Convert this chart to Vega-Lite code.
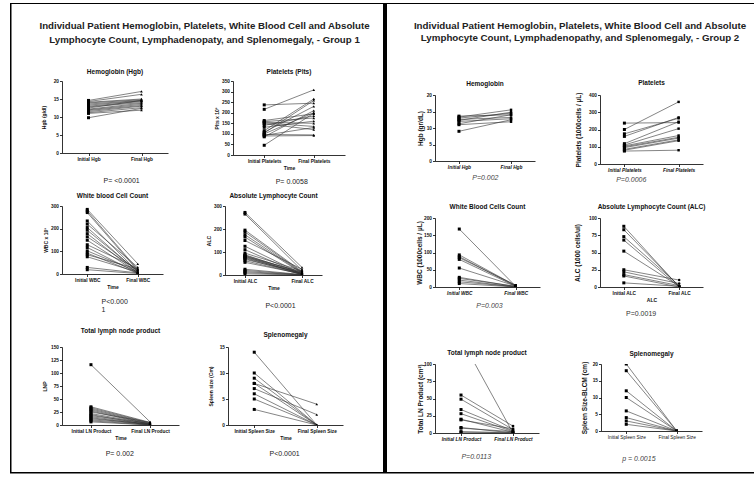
{
"$schema": "https://vega.github.io/schema/vega-lite/v6.json",
"padding": {"left": 10, "top": 3, "right": 0, "bottom": 0},
"background": "white",
"config": {
 "font": "Liberation Sans",
 "view": {"stroke": null},
 "axis": {"grid": false, "domainColor": "#000", "domainWidth": 0.8, "tickColor": "#000", "tickWidth": 0.8, "tickSize": 2.5, "labelFontSize": 4.8, "labelFontWeight": "bold", "labelColor": "#111", "labelPadding": 1, "titleFontSize": 5, "titleFontWeight": "bold", "titleColor": "#111", "titlePadding": 2, "labelOverlap": false},
 "title": {"fontSize": 6.5, "fontWeight": "bold", "color": "#111", "offset": 5, "anchor": "middle"}
},
"datasets": {
 "g1hgb": [{"p":1,"t":"I","v":14.6},{"p":1,"t":"F","v":17.1},{"p":2,"t":"I","v":14.3},{"p":2,"t":"F","v":16.3},{"p":3,"t":"I","v":14.1},{"p":3,"t":"F","v":15.0},{"p":4,"t":"I","v":13.9},{"p":4,"t":"F","v":14.8},{"p":5,"t":"I","v":13.6},{"p":5,"t":"F","v":14.6},{"p":6,"t":"I","v":13.3},{"p":6,"t":"F","v":14.5},{"p":7,"t":"I","v":13.0},{"p":7,"t":"F","v":14.3},{"p":8,"t":"I","v":12.8},{"p":8,"t":"F","v":14.0},{"p":9,"t":"I","v":12.5},{"p":9,"t":"F","v":14.6},{"p":10,"t":"I","v":12.2},{"p":10,"t":"F","v":13.8},{"p":11,"t":"I","v":12.0},{"p":11,"t":"F","v":13.5},{"p":12,"t":"I","v":11.8},{"p":12,"t":"F","v":13.2},{"p":13,"t":"I","v":11.5},{"p":13,"t":"F","v":13.0},{"p":14,"t":"I","v":11.2},{"p":14,"t":"F","v":12.6},{"p":15,"t":"I","v":11.0},{"p":15,"t":"F","v":11.9},{"p":16,"t":"I","v":9.8},{"p":16,"t":"F","v":12.4}],
 "g1plt": [{"p":1,"t":"I","v":237},{"p":1,"t":"F","v":245},{"p":2,"t":"I","v":216},{"p":2,"t":"F","v":308},{"p":3,"t":"I","v":163},{"p":3,"t":"F","v":195},{"p":4,"t":"I","v":158},{"p":4,"t":"F","v":175},{"p":5,"t":"I","v":155},{"p":5,"t":"F","v":150},{"p":6,"t":"I","v":152},{"p":6,"t":"F","v":135},{"p":7,"t":"I","v":148},{"p":7,"t":"F","v":120},{"p":8,"t":"I","v":140},{"p":8,"t":"F","v":185},{"p":9,"t":"I","v":131},{"p":9,"t":"F","v":160},{"p":10,"t":"I","v":115},{"p":10,"t":"F","v":265},{"p":11,"t":"I","v":108},{"p":11,"t":"F","v":230},{"p":12,"t":"I","v":104},{"p":12,"t":"F","v":258},{"p":13,"t":"I","v":100},{"p":13,"t":"F","v":200},{"p":14,"t":"I","v":97},{"p":14,"t":"F","v":95},{"p":15,"t":"I","v":93},{"p":15,"t":"F","v":130},{"p":16,"t":"I","v":90},{"p":16,"t":"F","v":92},{"p":17,"t":"I","v":86},{"p":17,"t":"F","v":210},{"p":18,"t":"I","v":46},{"p":18,"t":"F","v":198}],
 "g1wbc": [{"p":1,"t":"I","v":285},{"p":1,"t":"F","v":45},{"p":2,"t":"I","v":278},{"p":2,"t":"F","v":20},{"p":3,"t":"I","v":271},{"p":3,"t":"F","v":15},{"p":4,"t":"I","v":234},{"p":4,"t":"F","v":10},{"p":5,"t":"I","v":220},{"p":5,"t":"F","v":30},{"p":6,"t":"I","v":205},{"p":6,"t":"F","v":8},{"p":7,"t":"I","v":193},{"p":7,"t":"F","v":12},{"p":8,"t":"I","v":178},{"p":8,"t":"F","v":5},{"p":9,"t":"I","v":164},{"p":9,"t":"F","v":18},{"p":10,"t":"I","v":149},{"p":10,"t":"F","v":6},{"p":11,"t":"I","v":129},{"p":11,"t":"F","v":25},{"p":12,"t":"I","v":117},{"p":12,"t":"F","v":4},{"p":13,"t":"I","v":102},{"p":13,"t":"F","v":10},{"p":14,"t":"I","v":92},{"p":14,"t":"F","v":3},{"p":15,"t":"I","v":85},{"p":15,"t":"F","v":22},{"p":16,"t":"I","v":76},{"p":16,"t":"F","v":8},{"p":17,"t":"I","v":29},{"p":17,"t":"F","v":5},{"p":18,"t":"I","v":19},{"p":18,"t":"F","v":2}],
 "g1alc": [{"p":1,"t":"I","v":272},{"p":1,"t":"F","v":33},{"p":2,"t":"I","v":265},{"p":2,"t":"F","v":20},{"p":3,"t":"I","v":195},{"p":3,"t":"F","v":15},{"p":4,"t":"I","v":187},{"p":4,"t":"F","v":12},{"p":5,"t":"I","v":175},{"p":5,"t":"F","v":10},{"p":6,"t":"I","v":165},{"p":6,"t":"F","v":8},{"p":7,"t":"I","v":150},{"p":7,"t":"F","v":25},{"p":8,"t":"I","v":125},{"p":8,"t":"F","v":5},{"p":9,"t":"I","v":110},{"p":9,"t":"F","v":3},{"p":10,"t":"I","v":95},{"p":10,"t":"F","v":18},{"p":11,"t":"I","v":88},{"p":11,"t":"F","v":6},{"p":12,"t":"I","v":85},{"p":12,"t":"F","v":11},{"p":13,"t":"I","v":83},{"p":13,"t":"F","v":2},{"p":14,"t":"I","v":80},{"p":14,"t":"F","v":14},{"p":15,"t":"I","v":78},{"p":15,"t":"F","v":4},{"p":16,"t":"I","v":75},{"p":16,"t":"F","v":7},{"p":17,"t":"I","v":72},{"p":17,"t":"F","v":1},{"p":18,"t":"I","v":68},{"p":18,"t":"F","v":9},{"p":19,"t":"I","v":62},{"p":19,"t":"F","v":3},{"p":20,"t":"I","v":55},{"p":20,"t":"F","v":5},{"p":21,"t":"I","v":25},{"p":21,"t":"F","v":2},{"p":22,"t":"I","v":20},{"p":22,"t":"F","v":1},{"p":23,"t":"I","v":15},{"p":23,"t":"F","v":0},{"p":24,"t":"I","v":10},{"p":24,"t":"F","v":1},{"p":25,"t":"I","v":5},{"p":25,"t":"F","v":0}],
 "g1lnp": [{"p":1,"t":"I","v":116},{"p":1,"t":"F","v":6},{"p":2,"t":"I","v":35},{"p":2,"t":"F","v":5},{"p":3,"t":"I","v":33},{"p":3,"t":"F","v":4},{"p":4,"t":"I","v":31},{"p":4,"t":"F","v":3},{"p":5,"t":"I","v":29},{"p":5,"t":"F","v":2},{"p":6,"t":"I","v":27},{"p":6,"t":"F","v":1},{"p":7,"t":"I","v":25},{"p":7,"t":"F","v":5},{"p":8,"t":"I","v":22},{"p":8,"t":"F","v":2},{"p":9,"t":"I","v":20},{"p":9,"t":"F","v":0},{"p":10,"t":"I","v":18},{"p":10,"t":"F","v":3},{"p":11,"t":"I","v":16},{"p":11,"t":"F","v":1},{"p":12,"t":"I","v":14},{"p":12,"t":"F","v":0},{"p":13,"t":"I","v":12},{"p":13,"t":"F","v":2},{"p":14,"t":"I","v":10},{"p":14,"t":"F","v":1},{"p":15,"t":"I","v":8},{"p":15,"t":"F","v":0},{"p":16,"t":"I","v":6},{"p":16,"t":"F","v":0}],
 "g1spl": [{"p":1,"t":"I","v":14},{"p":1,"t":"F","v":0},{"p":2,"t":"I","v":10},{"p":2,"t":"F","v":0},{"p":3,"t":"I","v":9},{"p":3,"t":"F","v":0},{"p":4,"t":"I","v":8},{"p":4,"t":"F","v":4},{"p":5,"t":"I","v":8},{"p":5,"t":"F","v":0},{"p":6,"t":"I","v":7},{"p":6,"t":"F","v":2},{"p":7,"t":"I","v":6},{"p":7,"t":"F","v":0},{"p":8,"t":"I","v":5},{"p":8,"t":"F","v":0},{"p":9,"t":"I","v":3},{"p":9,"t":"F","v":0}],
 "g2hgb": [{"p":1,"t":"I","v":13.6},{"p":1,"t":"F","v":14.0},{"p":2,"t":"I","v":13.3},{"p":2,"t":"F","v":15.5},{"p":3,"t":"I","v":13.0},{"p":3,"t":"F","v":14.5},{"p":4,"t":"I","v":12.6},{"p":4,"t":"F","v":13.2},{"p":5,"t":"I","v":12.3},{"p":5,"t":"F","v":14.8},{"p":6,"t":"I","v":12.0},{"p":6,"t":"F","v":12.8},{"p":7,"t":"I","v":11.3},{"p":7,"t":"F","v":14.0},{"p":8,"t":"I","v":11.0},{"p":8,"t":"F","v":11.9},{"p":9,"t":"I","v":9.0},{"p":9,"t":"F","v":12.5}],
 "g2plt": [{"p":1,"t":"I","v":237},{"p":1,"t":"F","v":240},{"p":2,"t":"I","v":200},{"p":2,"t":"F","v":360},{"p":3,"t":"I","v":175},{"p":3,"t":"F","v":265},{"p":4,"t":"I","v":160},{"p":4,"t":"F","v":270},{"p":5,"t":"I","v":118},{"p":5,"t":"F","v":245},{"p":6,"t":"I","v":110},{"p":6,"t":"F","v":205},{"p":7,"t":"I","v":105},{"p":7,"t":"F","v":165},{"p":8,"t":"I","v":100},{"p":8,"t":"F","v":155},{"p":9,"t":"I","v":95},{"p":9,"t":"F","v":150},{"p":10,"t":"I","v":85},{"p":10,"t":"F","v":140},{"p":11,"t":"I","v":80},{"p":11,"t":"F","v":135},{"p":12,"t":"I","v":75},{"p":12,"t":"F","v":80}],
 "g2wbc": [{"p":1,"t":"I","v":168},{"p":1,"t":"F","v":2},{"p":2,"t":"I","v":93},{"p":2,"t":"F","v":4},{"p":3,"t":"I","v":88},{"p":3,"t":"F","v":3},{"p":4,"t":"I","v":85},{"p":4,"t":"F","v":5},{"p":5,"t":"I","v":80},{"p":5,"t":"F","v":2},{"p":6,"t":"I","v":55},{"p":6,"t":"F","v":3},{"p":7,"t":"I","v":28},{"p":7,"t":"F","v":1},{"p":8,"t":"I","v":25},{"p":8,"t":"F","v":2},{"p":9,"t":"I","v":20},{"p":9,"t":"F","v":0},{"p":10,"t":"I","v":15},{"p":10,"t":"F","v":1},{"p":11,"t":"I","v":10},{"p":11,"t":"F","v":0}],
 "g2alc": [{"p":1,"t":"I","v":88},{"p":1,"t":"F","v":0},{"p":2,"t":"I","v":83},{"p":2,"t":"F","v":1},{"p":3,"t":"I","v":73},{"p":3,"t":"F","v":2},{"p":4,"t":"I","v":68},{"p":4,"t":"F","v":0},{"p":5,"t":"I","v":52},{"p":5,"t":"F","v":1},{"p":6,"t":"I","v":25},{"p":6,"t":"F","v":10},{"p":7,"t":"I","v":22},{"p":7,"t":"F","v":5},{"p":8,"t":"I","v":18},{"p":8,"t":"F","v":2},{"p":9,"t":"I","v":16},{"p":9,"t":"F","v":0},{"p":10,"t":"I","v":6},{"p":10,"t":"F","v":1}],
 "g2lnp": [{"p":1,"t":"I","v":137},{"p":1,"t":"F","v":0},{"p":2,"t":"I","v":55},{"p":2,"t":"F","v":10},{"p":3,"t":"I","v":49},{"p":3,"t":"F","v":5},{"p":4,"t":"I","v":34},{"p":4,"t":"F","v":3},{"p":5,"t":"I","v":28},{"p":5,"t":"F","v":2},{"p":6,"t":"I","v":20},{"p":6,"t":"F","v":1},{"p":7,"t":"I","v":19},{"p":7,"t":"F","v":6},{"p":8,"t":"I","v":8},{"p":8,"t":"F","v":0},{"p":9,"t":"I","v":7},{"p":9,"t":"F","v":2},{"p":10,"t":"I","v":2},{"p":10,"t":"F","v":0},{"p":11,"t":"I","v":1},{"p":11,"t":"F","v":1}],
 "g2spl": [{"p":1,"t":"I","v":20},{"p":1,"t":"F","v":0},{"p":2,"t":"I","v":18},{"p":2,"t":"F","v":0},{"p":3,"t":"I","v":12},{"p":3,"t":"F","v":0},{"p":4,"t":"I","v":10},{"p":4,"t":"F","v":0},{"p":5,"t":"I","v":6},{"p":5,"t":"F","v":0},{"p":6,"t":"I","v":4},{"p":6,"t":"F","v":0},{"p":7,"t":"I","v":3},{"p":7,"t":"F","v":0},{"p":8,"t":"I","v":2},{"p":8,"t":"F","v":0}]
},
"spacing": 0,
"vconcat": [
 {"width": 744, "height": 1, "data": {"values": [{}]}, "mark": {"type": "point", "size": 0, "opacity": 0, "strokeWidth": 0}, "encoding": {}, "view": {"fill": "#000", "stroke": null}},
 {"spacing": 13, "hconcat": [
  {"spacing": 27, "hconcat": [
   {"width": 1.5, "height": 468, "data": {"values": [{}]}, "mark": {"type": "point", "size": 0, "opacity": 0, "strokeWidth": 0}, "encoding": {}, "view": {"fill": "#000", "stroke": null}},
   {"spacing": 6, "vconcat": [
    {"spacing": 23, "vconcat": [
     {"width": 285, "height": 16.5, "data": {"values": [{}]}, "mark": {"type": "point", "size": 0, "opacity": 0, "strokeWidth": 0}, "encoding": {}, "title": {"text": ["Individual Patient Hemoglobin, Platelets, White Blood Cell and Absolute", "Lymphocyte Count, Lymphadenopaty, and Splenomegaly,  - Group 1"], "orient": "bottom", "offset": 0, "frame": "group", "fontSize": 9.7, "lineHeight": 14, "color": "#222"}},
     {"spacing": 46, "hconcat": [
      {"title": {"text": "P= <0.0001", "orient": "bottom", "frame": "bounds", "offset": 16, "dx": 17, "fontSize": 7, "fontWeight": "normal", "color": "#222"}, "vconcat": [
       {"width": 106, "height": 72, "title": {"text": "Hemoglobin (Hgb)", "offset": 3, "frame": "group"}, "data": {"name": "g1hgb"},
        "encoding": {"x": {"field": "t", "type": "nominal", "sort": ["I", "F"], "scale": {"type": "point", "padding": 0.5}, "axis": {"title": null, "labelAngle": 0, "labelExpr": "datum.value == 'I' ? 'Initial Hgb' : 'Final Hgb'"}},
         "y": {"field": "v", "type": "quantitative", "scale": {"domain": [0, 20], "nice": false}, "axis": {"values": [0, 5, 10, 15, 20], "title": "Hgb (g/dl)", "titlePadding": 7}}},
        "layer": [
         {"mark": {"type": "line", "color": "#333", "strokeWidth": 0.6, "clip": true}, "encoding": {"detail": {"field": "p", "type": "nominal"}}},
         {"transform": [{"filter": "datum.t == 'I'"}], "mark": {"type": "square", "color": "#000", "opacity": 1, "size": 9, "clip": true}},
         {"transform": [{"filter": "datum.t == 'F'"}], "mark": {"type": "point", "shape": "triangle-up", "filled": true, "color": "#000", "opacity": 1, "size": 7, "clip": true}}]}]},
      {"title": {"text": "P= 0.0058", "orient": "bottom", "frame": "bounds", "offset": 8, "dx": 12, "fontSize": 7, "fontWeight": "normal", "color": "#222"}, "vconcat": [
       {"width": 112, "height": 74, "title": {"text": "Platelets (Plts)", "offset": 3, "frame": "group"}, "data": {"name": "g1plt"},
        "encoding": {"x": {"field": "t", "type": "nominal", "sort": ["I", "F"], "scale": {"type": "point", "padding": 0.63}, "axis": {"title": "Time", "labelAngle": 0, "labelExpr": "datum.value == 'I' ? 'Initial Platelets' : 'Final Platelets'"}},
         "y": {"field": "v", "type": "quantitative", "scale": {"domain": [0, 350], "nice": false}, "axis": {"values": [0, 50, 100, 150, 200, 250, 300, 350], "title": "Plts x 10³", "titlePadding": 2}}},
        "layer": [
         {"mark": {"type": "line", "color": "#333", "strokeWidth": 0.6, "clip": true}, "encoding": {"detail": {"field": "p", "type": "nominal"}}},
         {"transform": [{"filter": "datum.t == 'I'"}], "mark": {"type": "square", "color": "#000", "opacity": 1, "size": 9, "clip": true}},
         {"transform": [{"filter": "datum.t == 'F'"}], "mark": {"type": "point", "shape": "triangle-up", "filled": true, "color": "#000", "opacity": 1, "size": 7, "clip": true}}]}]}
     ]}
    ]},
    {"spacing": 13, "vconcat": [
     {"spacing": 43, "hconcat": [
      {"title": {"text": ["P<0.000", "1"], "orient": "bottom", "frame": "bounds", "offset": 9, "fontSize": 7, "fontWeight": "normal", "color": "#222", "anchor": "start", "align": "left", "dx": 58, "lineHeight": 8}, "vconcat": [
       {"width": 101, "height": 68, "title": {"text": "White blood Cell Count", "offset": 4, "frame": "group"}, "data": {"name": "g1wbc"},
        "encoding": {"x": {"field": "t", "type": "nominal", "sort": ["I", "F"], "scale": {"type": "point", "padding": 0.5}, "axis": {"title": "Time", "labelAngle": 0, "labelExpr": "datum.value == 'I' ? 'Initial WBC' : 'Final WBC'"}},
         "y": {"field": "v", "type": "quantitative", "scale": {"domain": [0, 300], "nice": false}, "axis": {"values": [0, 100, 200, 300], "title": "WBC x 10³", "titlePadding": 2}}},
        "layer": [
         {"mark": {"type": "line", "color": "#333", "strokeWidth": 0.6, "clip": true}, "encoding": {"detail": {"field": "p", "type": "nominal"}}},
         {"transform": [{"filter": "datum.t == 'I'"}], "mark": {"type": "square", "color": "#000", "opacity": 1, "size": 9, "clip": true}},
         {"transform": [{"filter": "datum.t == 'F'"}], "mark": {"type": "point", "shape": "triangle-up", "filled": true, "color": "#000", "opacity": 1, "size": 7, "clip": true}}]}]},
      {"title": {"text": "P<0.0001", "orient": "bottom", "frame": "bounds", "offset": 12, "dx": 16, "fontSize": 7, "fontWeight": "normal", "color": "#222"}, "vconcat": [
       {"width": 97, "height": 69, "title": {"text": "Absolute Lymphocyte  Count", "offset": 4, "frame": "group"}, "data": {"name": "g1alc"},
        "encoding": {"x": {"field": "t", "type": "nominal", "sort": ["I", "F"], "scale": {"type": "point", "padding": 0.35}, "axis": {"title": "Time", "labelAngle": 0, "labelExpr": "datum.value == 'I' ? 'Initial ALC' : 'Final ALC'"}},
         "y": {"field": "v", "type": "quantitative", "scale": {"domain": [0, 300], "nice": false}, "axis": {"values": [0, 100, 200, 300], "title": "ALC", "titlePadding": 1.5}}},
        "layer": [
         {"mark": {"type": "line", "color": "#333", "strokeWidth": 0.6, "clip": true}, "encoding": {"detail": {"field": "p", "type": "nominal"}}},
         {"transform": [{"filter": "datum.t == 'I'"}], "mark": {"type": "square", "color": "#000", "opacity": 1, "size": 9, "clip": true}},
         {"transform": [{"filter": "datum.t == 'F'"}], "mark": {"type": "point", "shape": "triangle-up", "filled": true, "color": "#000", "opacity": 1, "size": 7, "clip": true}}]}]}
     ]},
     {"spacing": 29, "hconcat": [
      {"title": {"text": "P= 0.002", "orient": "bottom", "frame": "bounds", "offset": 10, "dx": 9, "fontSize": 7, "fontWeight": "normal", "color": "#222"}, "vconcat": [
       {"width": 117, "height": 78, "title": {"text": "Total lymph node product", "offset": 10, "frame": "group"}, "data": {"name": "g1lnp"},
        "encoding": {"x": {"field": "t", "type": "nominal", "sort": ["I", "F"], "scale": {"type": "point", "padding": 0.49}, "axis": {"title": "Time", "labelAngle": 0, "labelExpr": "datum.value == 'I' ? 'Initial LN Product' : 'Final LN Product'"}},
         "y": {"field": "v", "type": "quantitative", "scale": {"domain": [0, 150], "nice": false}, "axis": {"values": [0, 25, 50, 75, 100, 125, 150], "title": "LNP", "titlePadding": 3}}},
        "layer": [
         {"mark": {"type": "line", "color": "#333", "strokeWidth": 0.6, "clip": true}, "encoding": {"detail": {"field": "p", "type": "nominal"}}},
         {"transform": [{"filter": "datum.t == 'I'"}], "mark": {"type": "square", "color": "#000", "opacity": 1, "size": 9, "clip": true}},
         {"transform": [{"filter": "datum.t == 'F'"}], "mark": {"type": "point", "shape": "triangle-up", "filled": true, "color": "#000", "opacity": 1, "size": 7, "clip": true}}]}]},
      {"title": {"text": "P<0.0001", "orient": "bottom", "frame": "bounds", "offset": 10, "dx": 9, "fontSize": 7, "fontWeight": "normal", "color": "#222"}, "vconcat": [
       {"width": 115, "height": 78, "title": {"text": "Splenomegaly", "offset": 6, "frame": "group"}, "data": {"name": "g1spl"},
        "encoding": {"x": {"field": "t", "type": "nominal", "sort": ["I", "F"], "scale": {"type": "point", "padding": 0.42}, "axis": {"title": "Time", "labelAngle": 0, "labelExpr": "datum.value == 'I' ? 'Initial Spleen Size' : 'Final Spleen Size'"}},
         "y": {"field": "v", "type": "quantitative", "scale": {"domain": [0, 15], "nice": false}, "axis": {"values": [0, 5, 10, 15], "title": "Spleen size (Cm)", "titlePadding": 6}}},
        "layer": [
         {"mark": {"type": "line", "color": "#333", "strokeWidth": 0.6, "clip": true}, "encoding": {"detail": {"field": "p", "type": "nominal"}}},
         {"transform": [{"filter": "datum.t == 'I'"}], "mark": {"type": "square", "color": "#000", "opacity": 1, "size": 9, "clip": true}},
         {"transform": [{"filter": "datum.t == 'F'"}], "mark": {"type": "point", "shape": "triangle-up", "filled": true, "color": "#000", "opacity": 1, "size": 7, "clip": true}}]}]}
     ]}
    ]}
   ]}
  ]},
  {"spacing": 26, "hconcat": [
   {"width": 4, "height": 468, "data": {"values": [{}]}, "mark": {"type": "point", "size": 0, "opacity": 0, "strokeWidth": 0}, "encoding": {}, "view": {"fill": "#000", "stroke": null}},
   {"spacing": 19, "vconcat": [
    {"spacing": 36, "vconcat": [
     {"width": 290, "height": 16.5, "data": {"values": [{}]}, "mark": {"type": "point", "size": 0, "opacity": 0, "strokeWidth": 0}, "encoding": {}, "title": {"text": ["Individual Patient Hemoglobin, Platelets, White Blood Cell and Absolute", "Lymphocyte Count, Lymphadenopathy, and Splenomegaly,  - Group 2"], "orient": "bottom", "offset": 0, "frame": "group", "fontSize": 9.75, "lineHeight": 12, "color": "#222"}},
     {"spacing": 40, "hconcat": [
      {"title": {"text": "P=0.002", "orient": "bottom", "frame": "bounds", "offset": 5, "dx": 9, "fontSize": 7, "fontWeight": "normal", "fontStyle": "italic", "color": "#444"}, "vconcat": [
       {"width": 100, "height": 66, "title": {"text": "Hemoglobin", "offset": 4.5, "frame": "group"}, "data": {"name": "g2hgb"},
        "encoding": {"x": {"field": "t", "type": "nominal", "sort": ["I", "F"], "scale": {"type": "point", "padding": 0.46}, "axis": {"title": null, "labelAngle": 0, "labelFontStyle": "italic", "labelExpr": "datum.value == 'I' ? 'Initial Hgb' : 'Final Hgb'"}},
         "y": {"field": "v", "type": "quantitative", "scale": {"domain": [0, 20], "nice": false}, "axis": {"values": [0, 5, 10, 15, 20], "title": "Hgb (gr/dL)", "titleFontSize": 6.5, "titlePadding": 2.4}}},
        "layer": [
         {"mark": {"type": "line", "color": "#333", "strokeWidth": 0.6, "clip": true}, "encoding": {"detail": {"field": "p", "type": "nominal"}}},
         {"transform": [{"filter": "datum.t == 'I'"}], "mark": {"type": "square", "color": "#000", "opacity": 1, "size": 9, "clip": true}},
         {"transform": [{"filter": "datum.t == 'F'"}], "mark": {"type": "square", "color": "#000", "opacity": 1, "size": 6, "clip": true}}]}]},
      {"title": {"text": "P=0.0006", "orient": "bottom", "frame": "bounds", "offset": 4, "dx": -8, "fontSize": 7, "fontWeight": "normal", "fontStyle": "italic", "color": "#444"}, "vconcat": [
       {"width": 103, "height": 69, "title": {"text": "Platelets", "offset": 6, "frame": "group"}, "data": {"name": "g2plt"},
        "encoding": {"x": {"field": "t", "type": "nominal", "sort": ["I", "F"], "scale": {"type": "point", "padding": 0.45}, "axis": {"title": null, "labelAngle": 0, "labelFontStyle": "italic", "labelExpr": "datum.value == 'I' ? 'Initial Platelets' : 'Final  Platelets'"}},
         "y": {"field": "v", "type": "quantitative", "scale": {"domain": [0, 400], "nice": false}, "axis": {"values": [0, 100, 200, 300, 400], "title": "Platelets (1000cells / µL)", "titleFontSize": 6.5, "titlePadding": 7}}},
        "layer": [
         {"mark": {"type": "line", "color": "#333", "strokeWidth": 0.6, "clip": true}, "encoding": {"detail": {"field": "p", "type": "nominal"}}},
         {"transform": [{"filter": "datum.t == 'I'"}], "mark": {"type": "square", "color": "#000", "opacity": 1, "size": 9, "clip": true}},
         {"transform": [{"filter": "datum.t == 'F'"}], "mark": {"type": "square", "color": "#000", "opacity": 1, "size": 6, "clip": true}}]}]}
     ]}
    ]},
    {"spacing": 33, "vconcat": [
     {"spacing": 34, "hconcat": [
      {"title": {"text": "P=0.003", "orient": "bottom", "frame": "bounds", "offset": 7, "dx": 11, "fontSize": 7, "fontWeight": "normal", "fontStyle": "italic", "color": "#444"}, "vconcat": [
       {"width": 105, "height": 69, "title": {"text": "White Blood Cells Count", "offset": 5, "frame": "group"}, "data": {"name": "g2wbc"},
        "encoding": {"x": {"field": "t", "type": "nominal", "sort": ["I", "F"], "scale": {"type": "point", "padding": 0.43}, "axis": {"title": null, "labelAngle": 0, "labelFontStyle": "italic", "labelExpr": "datum.value == 'I' ? 'Initial WBC' : 'Final WBC'"}},
         "y": {"field": "v", "type": "quantitative", "scale": {"domain": [0, 200], "nice": false}, "axis": {"values": [0, 50, 100, 150, 200], "title": "WBC  (1000cells / µL)", "titleFontSize": 6.5, "titlePadding": 0.5}}},
        "layer": [
         {"mark": {"type": "line", "color": "#333", "strokeWidth": 0.6, "clip": true}, "encoding": {"detail": {"field": "p", "type": "nominal"}}},
         {"transform": [{"filter": "datum.t == 'I'"}], "mark": {"type": "square", "color": "#000", "opacity": 1, "size": 9, "clip": true}},
         {"transform": [{"filter": "datum.t == 'F'"}], "mark": {"type": "square", "color": "#000", "opacity": 1, "size": 6, "clip": true}}]}]},
      {"title": {"text": "P=0.0019", "orient": "bottom", "frame": "bounds", "offset": 7.5, "dx": 1, "fontSize": 7, "fontWeight": "normal", "color": "#333"}, "vconcat": [
       {"width": 103, "height": 69, "title": {"text": "Absolute Lymphocyte Count (ALC)", "offset": 5, "frame": "group"}, "data": {"name": "g2alc"},
        "encoding": {"x": {"field": "t", "type": "nominal", "sort": ["I", "F"], "scale": {"type": "point", "padding": 0.43}, "axis": {"title": "ALC", "labelAngle": 0, "labelExpr": "datum.value == 'I' ? 'Initial ALC' : 'Final ALC'"}},
         "y": {"field": "v", "type": "quantitative", "scale": {"domain": [0, 100], "nice": false}, "axis": {"values": [0, 25, 50, 75, 100], "title": "ALC (1000 cells/ul)", "titleFontSize": 6.5, "titlePadding": 7.7}}},
        "layer": [
         {"mark": {"type": "line", "color": "#333", "strokeWidth": 0.6, "clip": true}, "encoding": {"detail": {"field": "p", "type": "nominal"}}},
         {"transform": [{"filter": "datum.t == 'I'"}], "mark": {"type": "square", "color": "#000", "opacity": 1, "size": 9, "clip": true}},
         {"transform": [{"filter": "datum.t == 'F'"}], "mark": {"type": "point", "shape": "circle", "filled": true, "color": "#000", "opacity": 1, "size": 6, "clip": true}}]}]}
     ]},
     {"spacing": 42, "hconcat": [
      {"title": {"text": "P=0.0113", "orient": "bottom", "frame": "bounds", "offset": 11.5, "dx": -2, "fontSize": 7, "fontWeight": "normal", "fontStyle": "italic", "color": "#444"}, "vconcat": [
       {"width": 104, "height": 69, "title": {"text": "Total lymph node product", "offset": 4.5, "frame": "group"}, "data": {"name": "g2lnp"},
        "encoding": {"x": {"field": "t", "type": "nominal", "sort": ["I", "F"], "scale": {"type": "point", "padding": 0.5}, "axis": {"title": null, "labelAngle": 0, "labelFontStyle": "italic", "labelExpr": "datum.value == 'I' ? 'Initial LN Product' : 'Final LN Product'"}},
         "y": {"field": "v", "type": "quantitative", "scale": {"domain": [0, 100], "nice": false}, "axis": {"values": [0, 25, 50, 75, 100], "title": "Total LN  Product (cm²)", "titleFontSize": 6.5, "titlePadding": 0}}},
        "layer": [
         {"mark": {"type": "line", "color": "#333", "strokeWidth": 0.6, "clip": true}, "encoding": {"detail": {"field": "p", "type": "nominal"}}},
         {"transform": [{"filter": "datum.t == 'I'"}], "mark": {"type": "square", "color": "#000", "opacity": 1, "size": 9, "clip": true}},
         {"transform": [{"filter": "datum.t == 'F'"}], "mark": {"type": "square", "color": "#000", "opacity": 1, "size": 6, "clip": true}}]}]},
      {"title": {"text": "p = 0.0015", "orient": "bottom", "frame": "bounds", "offset": 15.5, "dx": -3, "fontSize": 7, "fontWeight": "normal", "fontStyle": "italic", "color": "#444"}, "vconcat": [
       {"width": 101, "height": 67, "title": {"text": "Splenomegaly", "offset": 2.5, "frame": "group"}, "data": {"name": "g2spl"},
        "encoding": {"x": {"field": "t", "type": "nominal", "sort": ["I", "F"], "scale": {"type": "point", "padding": 0.5}, "axis": {"title": null, "labelAngle": 0, "labelFontWeight": "normal", "labelExpr": "datum.value == 'I' ? 'Initial Spleen Size' : 'Final Spleen Size'"}},
         "y": {"field": "v", "type": "quantitative", "scale": {"domain": [0, 20], "nice": false}, "axis": {"values": [0, 5, 10, 15, 20], "title": "Spleen Size-BLCM  (cm)", "titleFontSize": 6.5, "titlePadding": 4.4}}},
        "layer": [
         {"mark": {"type": "line", "color": "#333", "strokeWidth": 0.6, "clip": true}, "encoding": {"detail": {"field": "p", "type": "nominal"}}},
         {"transform": [{"filter": "datum.t == 'I'"}], "mark": {"type": "square", "color": "#000", "opacity": 1, "size": 9, "clip": true}},
         {"transform": [{"filter": "datum.t == 'F'"}], "mark": {"type": "square", "color": "#000", "opacity": 1, "size": 6, "clip": true}}]}]}
     ]}
    ]}
   ]}
  ]}
 ]},
 {"width": 744, "height": 1.5, "data": {"values": [{}]}, "mark": {"type": "point", "size": 0, "opacity": 0, "strokeWidth": 0}, "encoding": {}, "view": {"fill": "#000", "stroke": null}}
]
}
